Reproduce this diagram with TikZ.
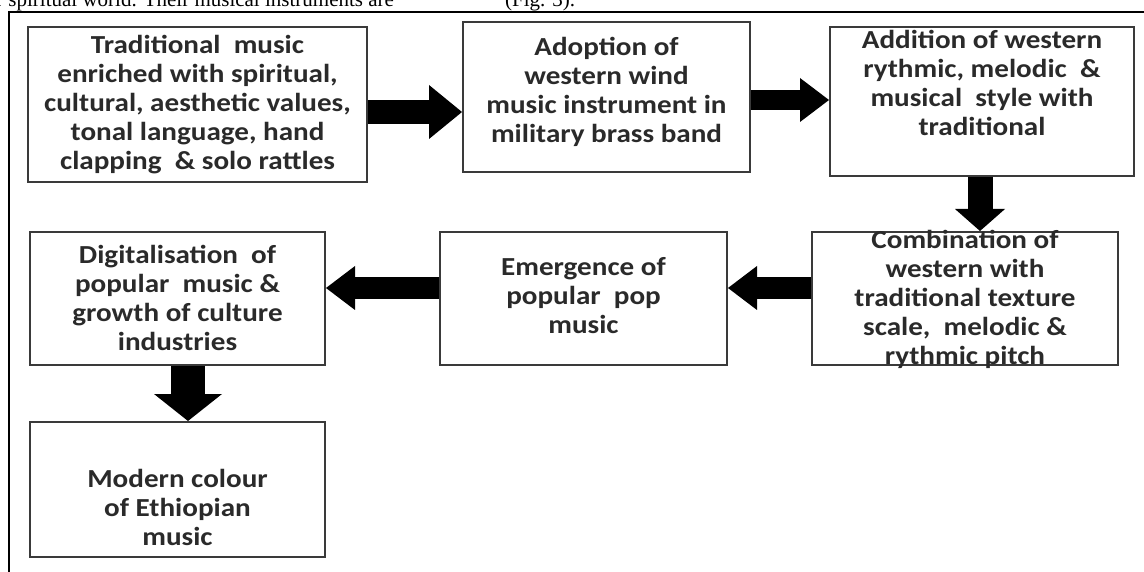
\documentclass[tikz,border=0pt]{standalone}
\usepackage{fontspec}
\setmainfont{Carlito}
\newfontfamily\boxfont[FakeStretch=1.12]{Carlito}
\newfontfamily\serifpage{Liberation Serif}
\usetikzlibrary{arrows.meta,calc}
\definecolor{txt}{HTML}{2A2A2A}
\definecolor{edge}{HTML}{3A3A3A}
\tikzset{
  box/.style={draw=edge, line width=2pt, fill=white, inner sep=0pt},
  lbl/.style={text=txt, font=\boxfont\bfseries\fontsize{26}{29}\selectfont, align=center, inner sep=0pt},
  pg/.style={anchor=base west, inner sep=0pt, font=\serifpage\fontsize{21}{25}\selectfont},
  fat/.style={line width=#1, draw=black},
  hd/.style n args={2}{-{Triangle[width=#1,length=#2,line width=0pt]}},
}
\begin{document}
\begin{tikzpicture}[x=1pt,y=-1pt]
\useasboundingbox (0,0) rectangle (1144,572);
\clip (0,0) rectangle (1144,572);
\fill[white] (0,0) rectangle (1144,572);
% page text cut off at top
\node[pg] (pagetxt) at (-4,7) {r spiritual world. Their musical instruments are};
\node[pg] (figref) at (505,7) {(Fig. 3).};
% outer frame
\coordinate (frameBL) at (9,580);
\coordinate (frameTL) at (9,12);
\coordinate (frameTR) at (1150,12);
\draw[line width=2pt, black] (frameBL) -- (frameTL) -- (frameTR);
% boxes
\node[box, minimum width=339pt, minimum height=155pt] (b1) at (197.5,104.5) {};
\node[box, minimum width=287pt, minimum height=150pt] (b2) at (606.5,97) {};
\node[box, minimum width=304pt, minimum height=149pt] (b3) at (982,101.5) {};
\node[box, minimum width=306pt, minimum height=133pt] (b6) at (965,298.5) {};
\node[box, minimum width=287pt, minimum height=133pt] (b5) at (583.5,298.5) {};
\node[box, minimum width=295pt, minimum height=133pt] (b4) at (177.5,298.5) {};
\node[box, minimum width=295pt, minimum height=135pt] (b7) at (177.5,489.5) {};
% texts
\node[lbl] (t1) at (197.5,105) {Traditional \ music\\enriched with spiritual,\\cultural, aesthetic values,\\tonal language, hand\\clapping \ \& solo rattles};
\node[lbl] (t2) at (606.5,92) {Adoption of\\western wind\\music instrument in\\military brass band};
\node[lbl] (t3) at (982,83) {Addition of western\\rythmic, melodic \ \&\\musical \ style with\\traditional};
\node[lbl] (t6) at (965,299) {Combination of\\western with\\traditional texture\\scale, \ melodic \&\\rythmic pitch};
\node[lbl] (t5) at (583.5,296) {Emergence of\\popular \ pop\\music};
\node[lbl] (t4) at (177.5,298) {Digitalisation \ of\\popular \ music \&\\growth of culture\\industries};
\node[lbl] (t7) at (177.5,507) {Modern colour\\of Ethiopian\\music};
% connectors
\draw[fat=24pt, hd={54pt}{33pt}] (b1.east |- 0,112) -- (b2.west |- 0,112);
\draw[fat=20pt, hd={44pt}{29pt}] (b2.east |- 0,100) -- (b3.west |- 0,100);
\draw[fat=25pt, hd={50pt}{22pt}] (b3.south -| 980,0) -- (b6.north -| 980,0);
\draw[fat=22pt, hd={44pt}{29pt}] (b6.west |- 0,288) -- (b5.east |- 0,288);
\draw[fat=22pt, hd={44pt}{29pt}] (b5.west |- 0,288) -- (b4.east |- 0,288);
\draw[fat=34pt, hd={68pt}{27pt}] (b4.south -| 188,0) -- (b7.north -| 188,0);
\end{tikzpicture}
\end{document}
